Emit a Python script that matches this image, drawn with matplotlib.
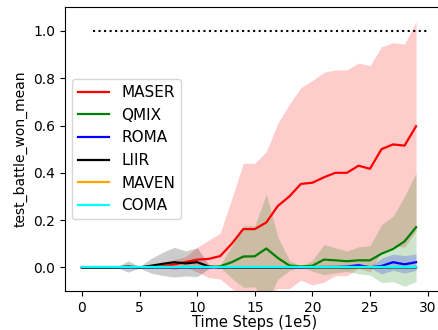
import numpy as np
import matplotlib
matplotlib.use("Agg")
import matplotlib.pyplot as plt

# time steps (1e5)
steps = list(range(30))

# mean win rate per method
maser = [0, 0, 0, 0, 0, 0, 0, 0.005, 0.012, 0.023, 0.033, 0.036, 0.048, 0.10, 0.162,
         0.162, 0.19, 0.26, 0.30, 0.353, 0.358, 0.381, 0.40, 0.40, 0.43, 0.417, 0.50, 0.52, 0.515, 0.597]
qmix = [0, 0, 0, 0, 0, 0, 0, 0, 0, 0, 0, 0, 0.005, 0.022, 0.046,
        0.047, 0.08, 0.04, 0.008, 0.004, 0.007, 0.033, 0.03, 0.026, 0.03, 0.03, 0.058, 0.078, 0.11, 0.17]
roma = [0, 0, 0, 0, 0, 0, 0, 0, 0, 0, 0, 0, 0, 0, 0,
        0, 0, 0, 0, 0, 0.001, 0.002, 0.002, 0.003, 0.009, 0.001, 0.006, 0.022, 0.013, 0.022]
liir = [0, 0, 0, 0, 0.004, 0, 0.007, 0.015, 0.022, 0.017, 0.022, 0.004, 0, 0, 0,
        0, 0, 0, 0, 0, 0, 0, 0, 0, 0, 0, 0, 0, 0, 0]
maven = [0] * 30
coma = [0] * 30

# spread (std) per method
maser_std = [0, 0, 0, 0, 0, 0, 0, 0.005, 0.021, 0.023, 0.052, 0.079, 0.097, 0.19, 0.278,
             0.278, 0.30, 0.35, 0.39, 0.407, 0.432, 0.444, 0.435, 0.435, 0.434, 0.436, 0.433, 0.43, 0.429, 0.443]
qmix_std = [0, 0, 0, 0, 0, 0, 0, 0, 0, 0, 0, 0, 0.005, 0.068, 0.13,
            0.129, 0.23, 0.09, 0.022, 0.001, 0.023, 0.064, 0.053, 0.043, 0.057, 0.062, 0.122, 0.138, 0.19, 0.23]
roma_std = [0, 0, 0, 0, 0, 0, 0, 0, 0, 0, 0, 0, 0, 0, 0,
            0, 0, 0, 0, 0, 0.002, 0.004, 0.006, 0.01, 0.009, 0.003, 0.033, 0.034, 0.037, 0.034]
liir_std = [0, 0, 0, 0, 0.024, 0.003, 0.031, 0.049, 0.063, 0.053, 0.061, 0.009, 0, 0, 0,
            0, 0, 0, 0, 0, 0, 0, 0, 0, 0, 0, 0, 0, 0, 0]
maven_std = [0] * 30
coma_std = [0] * 30

names = ["MASER", "QMIX", "ROMA", "LIIR", "MAVEN", "COMA"]
colors = ["red", "green", "blue", "black", "orange", "cyan"]
means = [maser, qmix, roma, liir, maven, coma]
stds = [maser_std, qmix_std, roma_std, liir_std, maven_std, coma_std]

fig = plt.figure(figsize=(4.38, 3.30), dpi=100)
ax = fig.add_axes([0.1477, 0.118, 0.868, 0.860])

x = np.array(steps)
for name, c, m, s in zip(names, colors, means, stds):
    m = np.array(m)
    s = np.array(s)
    ax.plot(x, m, color=c, linewidth=1.6, label=name)
    ax.fill_between(x, m - s, m + s, color=c, alpha=0.2, linewidth=0)

# target line
ax.plot([1, 30], [1.0, 1.0], "k:", linewidth=1.5)

ax.set_xlim(-1.5, 31.5)
ax.set_ylim(-0.1, 1.1)
ax.set_xticks([0, 5, 10, 15, 20, 25, 30])
ax.tick_params(labelsize=10)
ax.set_yticks([0.0, 0.2, 0.4, 0.6, 0.8, 1.0])
ax.set_xlabel("Time Steps (1e5)", fontsize=10.5, labelpad=0.5)
ax.set_ylabel("test_battle_won_mean", fontsize=10)
ax.legend(loc="center left", fontsize=11)

fig.savefig("out.png", dpi=100)
